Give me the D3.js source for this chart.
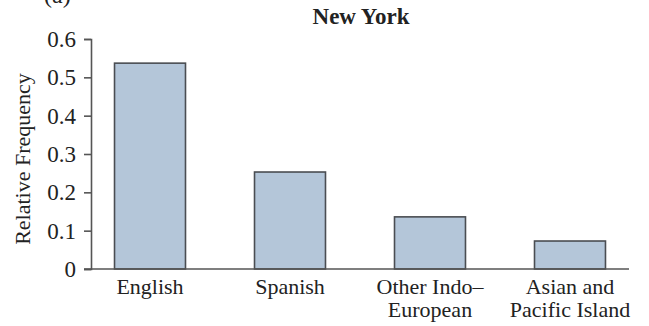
<!DOCTYPE html>
<html>
<head>
<meta charset="utf-8">
<script src="https://cdn.jsdelivr.net/npm/d3@7"></script>
<style>
  body { margin: 0; background: #fff; }
  text { font-family: "Liberation Serif", "DejaVu Serif", serif; fill: #222; }
</style>
</head>
<body>
<div id="chart"></div>
<script>
// data
const categories = ["English", "Spanish", "Other Indo–\nEuropean", "Asian and\nPacific Island"];
const relFreq = [0.537, 0.253, 0.136, 0.073];
const yTicks = [0, 0.1, 0.2, 0.3, 0.4, 0.5, 0.6];

const width = 649, height = 326;
const margin = { top: 39, right: 20, bottom: 57, left: 91 };

const svg = d3.select("#chart")
    .append("svg")
    .attr("width", width)
    .attr("height", height);

const innerH = height - margin.top - margin.bottom;

const xScale = d3.scaleBand()
    .domain(categories)
    .range([margin.left, 629])
    .paddingInner(0.493)
    .paddingOuter(0.168);

const yScale = d3.scaleLinear()
    .domain([0, 0.6])
    .range([margin.top + innerH, margin.top]);

// panel letter, mostly cut off by the top edge as in the original
svg.append("text")
    .attr("x", 44)
    .attr("y", 3)
    .style("font-size", "24px")
    .text("(a)");

// title
svg.append("text")
    .attr("x", 361)
    .attr("y", 24)
    .attr("text-anchor", "middle")
    .style("font-size", "23px")
    .style("font-weight", "bold")
    .text("New York");

// bars
svg.selectAll(".bar")
    .data(categories)
    .join("rect")
    .attr("class", "bar")
    .attr("x", d => xScale(d))
    .attr("y", (d, i) => yScale(relFreq[i]))
    .attr("width", xScale.bandwidth())
    .attr("height", (d, i) => yScale(0) - yScale(relFreq[i]))
    .attr("fill", "#b4c6d9")
    .attr("stroke", "#4a4d52")
    .attr("stroke-width", 1.6);

// y axis
const yAxis = d3.axisLeft(yScale)
    .tickValues(yTicks)
    .tickFormat(d => d === 0 ? "0" : d3.format(".1f")(d))
    .tickSize(7)
    .tickPadding(8);

const yg = svg.append("g")
    .attr("transform", `translate(${margin.left},0)`)
    .call(yAxis);
yg.select(".domain").attr("stroke", "#555").attr("stroke-width", 1.6);
yg.selectAll(".tick line").attr("stroke", "#555").attr("stroke-width", 1.6);
yg.selectAll(".tick text")
    .style("font-family", "Liberation Serif, serif")
    .style("font-size", "23px")
    .attr("fill", "#333");

// x axis baseline
svg.append("line")
    .attr("x1", 84)
    .attr("x2", 629)
    .attr("y1", yScale(0))
    .attr("y2", yScale(0))
    .attr("stroke", "#555")
    .attr("stroke-width", 1.6);

// x labels (multi-line)
const xl = svg.selectAll(".xlab")
    .data(categories)
    .join("text")
    .attr("class", "xlab")
    .attr("text-anchor", "middle")
    .style("font-size", "22px")
    .attr("fill", "#333");

xl.each(function(d) {
    const lines = d.split("\n");
    const t = d3.select(this);
    lines.forEach((ln, j) => {
        t.append("tspan")
            .attr("x", xScale(d) + xScale.bandwidth() / 2)
            .attr("y", 294 + j * 23)
            .text(ln);
    });
});

// y axis label
svg.append("text")
    .attr("transform", `translate(30,${margin.top + innerH / 2 + 5}) rotate(-90)`)
    .attr("text-anchor", "middle")
    .style("font-size", "22px")
    .attr("fill", "#333")
    .text("Relative Frequency");
</script>
</body>
</html>
